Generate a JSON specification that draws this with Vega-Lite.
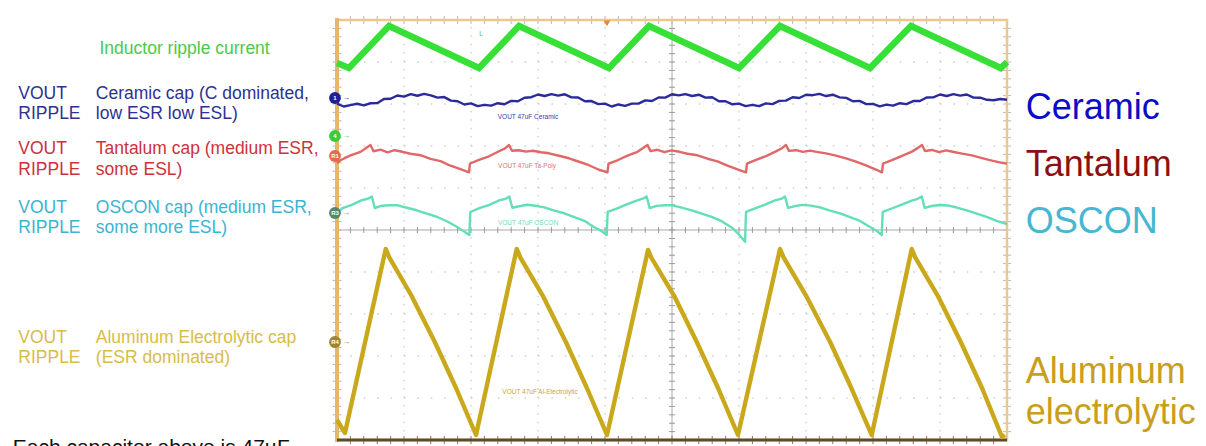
{
"$schema": "https://vega.github.io/schema/vega-lite/v6.json",
"width": 670, "height": 420,
"autosize": {"type": "none"},
"padding": {"left": 337, "top": 20, "right": 199, "bottom": 6},
"background": "white",
"config": {"view": {"stroke": null}, "font": "Liberation Sans", "axis": {"disable": true}},
"datasets": {
"gridv": [{"x":1},{"x":2},{"x":3},{"x":4},{"x":6},{"x":7},{"x":8},{"x":9}],
"gridh": [{"y":1},{"y":2},{"y":3},{"y":4},{"y":6},{"y":7},{"y":8},{"y":9}],
"minor": [{"p":0.2},{"p":0.4},{"p":0.6},{"p":0.8},{"p":1},{"p":1.2},{"p":1.4},{"p":1.6},{"p":1.8},{"p":2},{"p":2.2},{"p":2.4},{"p":2.6},{"p":2.8},{"p":3},{"p":3.2},{"p":3.4},{"p":3.6},{"p":3.8},{"p":4},{"p":4.2},{"p":4.4},{"p":4.6},{"p":4.8},{"p":5},{"p":5.2},{"p":5.4},{"p":5.6},{"p":5.8},{"p":6},{"p":6.2},{"p":6.4},{"p":6.6},{"p":6.8},{"p":7},{"p":7.2},{"p":7.4},{"p":7.6},{"p":7.8},{"p":8},{"p":8.2},{"p":8.4},{"p":8.6},{"p":8.8},{"p":9},{"p":9.2},{"p":9.4},{"p":9.6},{"p":9.8}],
"traces": [
{"s":"inductor","x":0,"y":8.976},{"s":"inductor","x":0.179,"y":8.857},{"s":"inductor","x":0.776,"y":9.857},{"s":"inductor","x":2.119,"y":8.857},{"s":"inductor","x":2.716,"y":9.857},{"s":"inductor","x":4.06,"y":8.857},{"s":"inductor","x":4.657,"y":9.857},{"s":"inductor","x":6.0,"y":8.857},{"s":"inductor","x":6.612,"y":9.857},{"s":"inductor","x":7.955,"y":8.857},{"s":"inductor","x":8.567,"y":9.857},{"s":"inductor","x":9.906,"y":8.857},{"s":"inductor","x":10,"y":9.0},
{"s":"ceramic","x":0,"y":8.009},{"s":"ceramic","x":0.1,"y":7.94},{"s":"ceramic","x":0.2,"y":7.974},{"s":"ceramic","x":0.3,"y":8.005},{"s":"ceramic","x":0.4,"y":7.969},{"s":"ceramic","x":0.5,"y":8.018},{"s":"ceramic","x":0.6,"y":8.02},{"s":"ceramic","x":0.7,"y":8.12},{"s":"ceramic","x":0.8,"y":8.125},{"s":"ceramic","x":0.9,"y":8.202},{"s":"ceramic","x":1.0,"y":8.176},{"s":"ceramic","x":1.1,"y":8.235},{"s":"ceramic","x":1.2,"y":8.196},{"s":"ceramic","x":1.3,"y":8.24},{"s":"ceramic","x":1.4,"y":8.206},{"s":"ceramic","x":1.5,"y":8.152},{"s":"ceramic","x":1.6,"y":8.165},{"s":"ceramic","x":1.7,"y":8.08},{"s":"ceramic","x":1.8,"y":8.065},{"s":"ceramic","x":1.9,"y":7.988},{"s":"ceramic","x":2.0,"y":8.014},{"s":"ceramic","x":2.1,"y":7.95},{"s":"ceramic","x":2.2,"y":7.979},{"s":"ceramic","x":2.3,"y":7.96},{"s":"ceramic","x":2.4,"y":8.019},{"s":"ceramic","x":2.5,"y":7.993},{"s":"ceramic","x":2.6,"y":8.075},{"s":"ceramic","x":2.7,"y":8.065},{"s":"ceramic","x":2.8,"y":8.15},{"s":"ceramic","x":2.9,"y":8.162},{"s":"ceramic","x":3.0,"y":8.226},{"s":"ceramic","x":3.1,"y":8.19},{"s":"ceramic","x":3.2,"y":8.236},{"s":"ceramic","x":3.3,"y":8.2},{"s":"ceramic","x":3.4,"y":8.231},{"s":"ceramic","x":3.5,"y":8.157},{"s":"ceramic","x":3.6,"y":8.155},{"s":"ceramic","x":3.7,"y":8.065},{"s":"ceramic","x":3.8,"y":8.07},{"s":"ceramic","x":3.9,"y":7.998},{"s":"ceramic","x":4.0,"y":8.009},{"s":"ceramic","x":4.1,"y":7.94},{"s":"ceramic","x":4.2,"y":7.989},{"s":"ceramic","x":4.3,"y":7.955},{"s":"ceramic","x":4.4,"y":8.009},{"s":"ceramic","x":4.5,"y":8.008},{"s":"ceramic","x":4.6,"y":8.085},{"s":"ceramic","x":4.7,"y":8.07},{"s":"ceramic","x":4.8,"y":8.155},{"s":"ceramic","x":4.9,"y":8.152},{"s":"ceramic","x":5.0,"y":8.231},{"s":"ceramic","x":5.1,"y":8.205},{"s":"ceramic","x":5.2,"y":8.236},{"s":"ceramic","x":5.3,"y":8.19},{"s":"ceramic","x":5.4,"y":8.221},{"s":"ceramic","x":5.5,"y":8.152},{"s":"ceramic","x":5.6,"y":8.16},{"s":"ceramic","x":5.7,"y":8.065},{"s":"ceramic","x":5.8,"y":8.065},{"s":"ceramic","x":5.9,"y":7.993},{"s":"ceramic","x":6.0,"y":8.009},{"s":"ceramic","x":6.1,"y":7.95},{"s":"ceramic","x":6.2,"y":7.979},{"s":"ceramic","x":6.3,"y":7.95},{"s":"ceramic","x":6.4,"y":8.014},{"s":"ceramic","x":6.5,"y":7.998},{"s":"ceramic","x":6.6,"y":8.075},{"s":"ceramic","x":6.7,"y":8.08},{"s":"ceramic","x":6.8,"y":8.16},{"s":"ceramic","x":6.9,"y":8.142},{"s":"ceramic","x":7.0,"y":8.221},{"s":"ceramic","x":7.1,"y":8.21},{"s":"ceramic","x":7.2,"y":8.241},{"s":"ceramic","x":7.3,"y":8.19},{"s":"ceramic","x":7.4,"y":8.221},{"s":"ceramic","x":7.5,"y":8.157},{"s":"ceramic","x":7.6,"y":8.145},{"s":"ceramic","x":7.7,"y":8.065},{"s":"ceramic","x":7.8,"y":8.075},{"s":"ceramic","x":7.9,"y":7.998},{"s":"ceramic","x":8.0,"y":8.004},{"s":"ceramic","x":8.1,"y":7.945},{"s":"ceramic","x":8.2,"y":7.984},{"s":"ceramic","x":8.3,"y":7.96},{"s":"ceramic","x":8.4,"y":8.019},{"s":"ceramic","x":8.5,"y":7.998},{"s":"ceramic","x":8.6,"y":8.07},{"s":"ceramic","x":8.7,"y":8.07},{"s":"ceramic","x":8.8,"y":8.155},{"s":"ceramic","x":8.9,"y":8.157},{"s":"ceramic","x":9.0,"y":8.226},{"s":"ceramic","x":9.1,"y":8.19},{"s":"ceramic","x":9.2,"y":8.236},{"s":"ceramic","x":9.3,"y":8.2},{"s":"ceramic","x":9.4,"y":8.226},{"s":"ceramic","x":9.5,"y":8.152},{"s":"ceramic","x":9.6,"y":8.15},{"s":"ceramic","x":9.7,"y":8.1},{"s":"ceramic","x":9.8,"y":8.09},{"s":"ceramic","x":9.9,"y":8.12},{"s":"ceramic","x":10.0,"y":8.1},
{"s":"tantalum","x":0,"y":6.595},{"s":"tantalum","x":0.052,"y":6.66},{"s":"tantalum","x":0.201,"y":6.775},{"s":"tantalum","x":0.351,"y":6.86},{"s":"tantalum","x":0.44,"y":6.96},{"s":"tantalum","x":0.5,"y":7.024},{"s":"tantalum","x":0.545,"y":6.875},{"s":"tantalum","x":0.649,"y":6.912},{"s":"tantalum","x":0.754,"y":6.85},{"s":"tantalum","x":0.858,"y":6.9},{"s":"tantalum","x":0.978,"y":6.862},{"s":"tantalum","x":1.097,"y":6.815},{"s":"tantalum","x":1.246,"y":6.78},{"s":"tantalum","x":1.396,"y":6.695},{"s":"tantalum","x":1.545,"y":6.64},{"s":"tantalum","x":1.694,"y":6.53},{"s":"tantalum","x":1.843,"y":6.448},{"s":"tantalum","x":1.97,"y":6.374},
{"s":"tantalum","x":1.985,"y":6.583},{"s":"tantalum","x":2.119,"y":6.672},{"s":"tantalum","x":2.269,"y":6.755},{"s":"tantalum","x":2.418,"y":6.875},{"s":"tantalum","x":2.507,"y":6.945},{"s":"tantalum","x":2.567,"y":7.024},{"s":"tantalum","x":2.612,"y":6.886},{"s":"tantalum","x":2.716,"y":6.898},{"s":"tantalum","x":2.821,"y":6.865},{"s":"tantalum","x":2.925,"y":6.888},{"s":"tantalum","x":3.045,"y":6.85},{"s":"tantalum","x":3.164,"y":6.826},{"s":"tantalum","x":3.313,"y":6.768},{"s":"tantalum","x":3.463,"y":6.708},{"s":"tantalum","x":3.612,"y":6.625},{"s":"tantalum","x":3.761,"y":6.542},{"s":"tantalum","x":3.91,"y":6.435},{"s":"tantalum","x":4.037,"y":6.374},
{"s":"tantalum","x":4.052,"y":6.583},{"s":"tantalum","x":4.186,"y":6.66},{"s":"tantalum","x":4.336,"y":6.77},{"s":"tantalum","x":4.485,"y":6.862},{"s":"tantalum","x":4.574,"y":6.958},{"s":"tantalum","x":4.634,"y":7.024},{"s":"tantalum","x":4.679,"y":6.878},{"s":"tantalum","x":4.783,"y":6.91},{"s":"tantalum","x":4.888,"y":6.852},{"s":"tantalum","x":4.992,"y":6.897},{"s":"tantalum","x":5.112,"y":6.862},{"s":"tantalum","x":5.231,"y":6.816},{"s":"tantalum","x":5.38,"y":6.779},{"s":"tantalum","x":5.53,"y":6.697},{"s":"tantalum","x":5.679,"y":6.636},{"s":"tantalum","x":5.828,"y":6.531},{"s":"tantalum","x":5.977,"y":6.445},{"s":"tantalum","x":6.104,"y":6.374},
{"s":"tantalum","x":6.119,"y":6.583},{"s":"tantalum","x":6.253,"y":6.67},{"s":"tantalum","x":6.403,"y":6.758},{"s":"tantalum","x":6.552,"y":6.872},{"s":"tantalum","x":6.641,"y":6.948},{"s":"tantalum","x":6.701,"y":7.024},{"s":"tantalum","x":6.746,"y":6.884},{"s":"tantalum","x":6.85,"y":6.9},{"s":"tantalum","x":6.955,"y":6.86},{"s":"tantalum","x":7.059,"y":6.89},{"s":"tantalum","x":7.179,"y":6.855},{"s":"tantalum","x":7.298,"y":6.824},{"s":"tantalum","x":7.447,"y":6.77},{"s":"tantalum","x":7.597,"y":6.705},{"s":"tantalum","x":7.746,"y":6.628},{"s":"tantalum","x":7.895,"y":6.538},{"s":"tantalum","x":8.044,"y":6.44},{"s":"tantalum","x":8.134,"y":6.374},
{"s":"tantalum","x":8.149,"y":6.583},{"s":"tantalum","x":8.283,"y":6.665},{"s":"tantalum","x":8.433,"y":6.765},{"s":"tantalum","x":8.582,"y":6.866},{"s":"tantalum","x":8.671,"y":6.955},{"s":"tantalum","x":8.731,"y":7.024},{"s":"tantalum","x":8.776,"y":6.88},{"s":"tantalum","x":8.88,"y":6.906},{"s":"tantalum","x":8.985,"y":6.855},{"s":"tantalum","x":9.089,"y":6.895},{"s":"tantalum","x":9.209,"y":6.858},{"s":"tantalum","x":9.328,"y":6.82},{"s":"tantalum","x":9.477,"y":6.776},{"s":"tantalum","x":9.627,"y":6.71},{"s":"tantalum","x":9.776,"y":6.65},{"s":"tantalum","x":9.925,"y":6.6},{"s":"tantalum","x":10.0,"y":6.58},
{"s":"oscon","x":0,"y":5.381},{"s":"oscon","x":0.072,"y":5.514},{"s":"oscon","x":0.221,"y":5.6},{"s":"oscon","x":0.37,"y":5.71},{"s":"oscon","x":0.46,"y":5.745},{"s":"oscon","x":0.52,"y":5.798},{"s":"oscon","x":0.564,"y":5.524},{"s":"oscon","x":0.669,"y":5.578},{"s":"oscon","x":0.788,"y":5.59},{"s":"oscon","x":0.907,"y":5.588},{"s":"oscon","x":1.042,"y":5.53},{"s":"oscon","x":1.191,"y":5.47},{"s":"oscon","x":1.34,"y":5.388},{"s":"oscon","x":1.489,"y":5.315},{"s":"oscon","x":1.639,"y":5.208},{"s":"oscon","x":1.788,"y":5.078},{"s":"oscon","x":1.892,"y":4.97},{"s":"oscon","x":1.975,"y":4.881},
{"s":"oscon","x":1.99,"y":5.429},{"s":"oscon","x":2.124,"y":5.52},{"s":"oscon","x":2.274,"y":5.6},{"s":"oscon","x":2.423,"y":5.708},{"s":"oscon","x":2.512,"y":5.74},{"s":"oscon","x":2.572,"y":5.798},{"s":"oscon","x":2.617,"y":5.53},{"s":"oscon","x":2.721,"y":5.565},{"s":"oscon","x":2.84,"y":5.6},{"s":"oscon","x":2.96,"y":5.578},{"s":"oscon","x":3.094,"y":5.54},{"s":"oscon","x":3.243,"y":5.46},{"s":"oscon","x":3.393,"y":5.398},{"s":"oscon","x":3.542,"y":5.305},{"s":"oscon","x":3.691,"y":5.22},{"s":"oscon","x":3.84,"y":5.065},{"s":"oscon","x":3.945,"y":4.98},{"s":"oscon","x":4.025,"y":4.881},
{"s":"oscon","x":4.04,"y":5.429},{"s":"oscon","x":4.174,"y":5.508},{"s":"oscon","x":4.324,"y":5.612},{"s":"oscon","x":4.473,"y":5.698},{"s":"oscon","x":4.562,"y":5.745},{"s":"oscon","x":4.622,"y":5.798},{"s":"oscon","x":4.667,"y":5.52},{"s":"oscon","x":4.771,"y":5.575},{"s":"oscon","x":4.891,"y":5.59},{"s":"oscon","x":5.01,"y":5.588},{"s":"oscon","x":5.144,"y":5.532},{"s":"oscon","x":5.294,"y":5.468},{"s":"oscon","x":5.443,"y":5.39},{"s":"oscon","x":5.592,"y":5.312},{"s":"oscon","x":5.741,"y":5.21},{"s":"oscon","x":5.891,"y":5.06},{"s":"oscon","x":5.995,"y":4.9},{"s":"oscon","x":6.09,"y":4.72},
{"s":"oscon","x":6.105,"y":5.429},{"s":"oscon","x":6.239,"y":5.515},{"s":"oscon","x":6.389,"y":5.605},{"s":"oscon","x":6.538,"y":5.705},{"s":"oscon","x":6.627,"y":5.74},{"s":"oscon","x":6.687,"y":5.798},{"s":"oscon","x":6.732,"y":5.528},{"s":"oscon","x":6.836,"y":5.57},{"s":"oscon","x":6.956,"y":5.598},{"s":"oscon","x":7.075,"y":5.58},{"s":"oscon","x":7.209,"y":5.538},{"s":"oscon","x":7.359,"y":5.462},{"s":"oscon","x":7.508,"y":5.395},{"s":"oscon","x":7.657,"y":5.308},{"s":"oscon","x":7.806,"y":5.215},{"s":"oscon","x":7.956,"y":5.07},{"s":"oscon","x":8.06,"y":4.975},{"s":"oscon","x":8.13,"y":4.881},
{"s":"oscon","x":8.145,"y":5.429},{"s":"oscon","x":8.279,"y":5.512},{"s":"oscon","x":8.429,"y":5.605},{"s":"oscon","x":8.578,"y":5.7},{"s":"oscon","x":8.667,"y":5.742},{"s":"oscon","x":8.727,"y":5.798},{"s":"oscon","x":8.772,"y":5.525},{"s":"oscon","x":8.876,"y":5.572},{"s":"oscon","x":8.996,"y":5.595},{"s":"oscon","x":9.115,"y":5.585},{"s":"oscon","x":9.249,"y":5.535},{"s":"oscon","x":9.399,"y":5.465},{"s":"oscon","x":9.548,"y":5.392},{"s":"oscon","x":9.697,"y":5.31},{"s":"oscon","x":9.846,"y":5.215},{"s":"oscon","x":10.0,"y":5.14},
{"s":"aluminum","x":0,"y":0.476},{"s":"aluminum","x":0.119,"y":0.167},{"s":"aluminum","x":0.727,"y":4.548},{"s":"aluminum","x":0.78,"y":4.35},{"s":"aluminum","x":1.11,"y":3.44},{"s":"aluminum","x":1.46,"y":2.333},{"s":"aluminum","x":1.78,"y":1.226},{"s":"aluminum","x":2.075,"y":0.119},
{"s":"aluminum","x":2.682,"y":4.548},{"s":"aluminum","x":2.735,"y":4.35},{"s":"aluminum","x":3.07,"y":3.44},{"s":"aluminum","x":3.416,"y":2.333},{"s":"aluminum","x":3.733,"y":1.226},{"s":"aluminum","x":4.03,"y":0.119},
{"s":"aluminum","x":4.642,"y":4.524},{"s":"aluminum","x":4.695,"y":4.33},{"s":"aluminum","x":5.03,"y":3.44},{"s":"aluminum","x":5.37,"y":2.333},{"s":"aluminum","x":5.69,"y":1.226},{"s":"aluminum","x":5.985,"y":0.119},
{"s":"aluminum","x":6.612,"y":4.548},{"s":"aluminum","x":6.665,"y":4.35},{"s":"aluminum","x":7.0,"y":3.44},{"s":"aluminum","x":7.36,"y":2.333},{"s":"aluminum","x":7.68,"y":1.226},{"s":"aluminum","x":7.981,"y":0.119},
{"s":"aluminum","x":8.578,"y":4.548},{"s":"aluminum","x":8.63,"y":4.35},{"s":"aluminum","x":8.965,"y":3.44},{"s":"aluminum","x":9.31,"y":2.333},{"s":"aluminum","x":9.63,"y":1.226},{"s":"aluminum","x":9.925,"y":0.071},{"s":"aluminum","x":9.97,"y":0.12}
],
"markers": [
{"x":-0.03,"y":8.143,"t":"1","g":"ceramic"},
{"x":-0.03,"y":7.238,"t":"4","g":"inductor"},
{"x":-0.03,"y":6.762,"t":"R1","g":"tantalum"},
{"x":-0.03,"y":5.405,"t":"R3","g":"oscon"},
{"x":-0.03,"y":2.333,"t":"R4","g":"aluminum"}
],
"tiny": [
{"x":2.851,"y":7.69,"t":"VOUT 47uF Ceramic","g":"ceramic"},
{"x":2.836,"y":6.524,"t":"VOUT 47uF Ta-Poly","g":"tantalum"},
{"x":2.851,"y":5.167,"t":"VOUT 47uF OSCON","g":"oscon"},
{"x":3.03,"y":1.143,"t":"VOUT 47uF Al-Electrolytic","g":"aluminum"},
{"x":2.149,"y":9.667,"t":"L","g":"inductor"}
],
"left": [
{"x":-3.545,"y":9.19,"t":"Inductor ripple current","g":"inductor"},
{"x":-4.757,"y":8.126,"t":"VOUT","g":"ceramic"},
{"x":-4.757,"y":7.636,"t":"RIPPLE","g":"ceramic"},
{"x":-3.6,"y":8.126,"t":"Ceramic cap (C dominated,","g":"ceramic"},
{"x":-3.6,"y":7.636,"t":"low ESR low ESL)","g":"ceramic"},
{"x":-4.757,"y":6.81,"t":"VOUT","g":"tantalum"},
{"x":-4.757,"y":6.317,"t":"RIPPLE","g":"tantalum"},
{"x":-3.6,"y":6.81,"t":"Tantalum cap (medium ESR,","g":"tantalum"},
{"x":-3.6,"y":6.317,"t":"some ESL)","g":"tantalum"},
{"x":-4.757,"y":5.412,"t":"VOUT","g":"oscon"},
{"x":-4.757,"y":4.921,"t":"RIPPLE","g":"oscon"},
{"x":-3.6,"y":5.412,"t":"OSCON cap (medium ESR,","g":"oscon"},
{"x":-3.6,"y":4.921,"t":"some more ESL)","g":"oscon"},
{"x":-4.757,"y":2.317,"t":"VOUT","g":"aluminum"},
{"x":-4.757,"y":1.826,"t":"RIPPLE","g":"aluminum"},
{"x":-3.6,"y":2.317,"t":"Aluminum Electrolytic cap","g":"aluminum"},
{"x":-3.6,"y":1.826,"t":"(ESR dominated)","g":"aluminum"}
],
"right": [
{"x":10.28,"y":7.643,"t":"Ceramic","g":"ceramic"},
{"x":10.28,"y":6.293,"t":"Tantalum","g":"tantalum"},
{"x":10.28,"y":4.929,"t":"OSCON","g":"oscon"},
{"x":10.28,"y":1.357,"t":"Aluminum","g":"aluminum"},
{"x":10.28,"y":0.381,"t":"electrolytic","g":"aluminum"}
]
},
"layer": [
{"data": {"name": "gridv"}, "mark": {"type": "rule", "color": "#cfcfcf", "strokeWidth": 1.4, "strokeDash": [1.5, 6.9]},
 "encoding": {"x": {"field": "x", "type": "quantitative", "scale": {"domain": [0, 10], "nice": false, "zero": false}}, "y": {"datum": 0, "scale": {"domain": [0, 10], "nice": false, "zero": false}}, "y2": {"datum": 10}}},
{"data": {"name": "gridh"}, "mark": {"type": "rule", "color": "#cfcfcf", "strokeWidth": 1.4, "strokeDash": [1.5, 11.9]},
 "encoding": {"y": {"field": "y", "type": "quantitative", "scale": {"domain": [0, 10], "nice": false, "zero": false}}, "x": {"datum": 0, "scale": {"domain": [0, 10], "nice": false, "zero": false}}, "x2": {"datum": 10}}},
{"data": {"values": [{}]}, "mark": {"type": "rule", "color": "#a8a8a8", "strokeWidth": 1},
 "encoding": {"x": {"datum": 5, "scale": {"domain": [0, 10], "nice": false, "zero": false}}, "y": {"datum": 0, "scale": {"domain": [0, 10], "nice": false, "zero": false}}, "y2": {"datum": 10}}},
{"data": {"values": [{}]}, "mark": {"type": "rule", "color": "#a8a8a8", "strokeWidth": 1},
 "encoding": {"y": {"datum": 5, "scale": {"domain": [0, 10], "nice": false, "zero": false}}, "x": {"datum": 0, "scale": {"domain": [0, 10], "nice": false, "zero": false}}, "x2": {"datum": 10}}},
{"data": {"name": "minor"}, "mark": {"type": "tick", "orient": "vertical", "size": 6, "thickness": 1, "color": "#999999", "opacity": 1},
 "encoding": {"x": {"field": "p", "type": "quantitative", "scale": {"domain": [0, 10], "nice": false, "zero": false}}, "y": {"datum": 5, "scale": {"domain": [0, 10], "nice": false, "zero": false}}}},
{"data": {"name": "minor"}, "mark": {"type": "tick", "orient": "horizontal", "size": 6, "thickness": 1, "color": "#999999", "opacity": 1},
 "encoding": {"y": {"field": "p", "type": "quantitative", "scale": {"domain": [0, 10], "nice": false, "zero": false}}, "x": {"datum": 5, "scale": {"domain": [0, 10], "nice": false, "zero": false}}}},
{"data": {"name": "minor"}, "mark": {"type": "tick", "orient": "vertical", "size": 8, "thickness": 1, "color": "#b8b8b8", "opacity": 1},
 "encoding": {"x": {"field": "p", "type": "quantitative", "scale": {"domain": [0, 10], "nice": false, "zero": false}}, "y": {"datum": 10, "scale": {"domain": [0, 10], "nice": false, "zero": false}}}},
{"data": {"name": "minor"}, "mark": {"type": "tick", "orient": "vertical", "size": 8, "thickness": 1, "color": "#8a7a5a", "opacity": 1},
 "encoding": {"x": {"field": "p", "type": "quantitative", "scale": {"domain": [0, 10], "nice": false, "zero": false}}, "y": {"datum": 0, "scale": {"domain": [0, 10], "nice": false, "zero": false}}}},
{"data": {"name": "minor"}, "mark": {"type": "tick", "orient": "horizontal", "size": 9, "thickness": 1, "color": "#b8b8b8", "opacity": 1},
 "encoding": {"y": {"field": "p", "type": "quantitative", "scale": {"domain": [0, 10], "nice": false, "zero": false}}, "x": {"datum": 0, "scale": {"domain": [0, 10], "nice": false, "zero": false}}}},
{"data": {"name": "minor"}, "mark": {"type": "tick", "orient": "horizontal", "size": 8, "thickness": 1, "color": "#b8b8b8", "opacity": 1},
 "encoding": {"y": {"field": "p", "type": "quantitative", "scale": {"domain": [0, 10], "nice": false, "zero": false}}, "x": {"datum": 10, "scale": {"domain": [0, 10], "nice": false, "zero": false}}}},
{"data": {"values": [{}]}, "mark": {"type": "rect", "fillOpacity": 0, "stroke": "#ecc88e", "strokeWidth": 2.5},
 "encoding": {"x": {"datum": 0, "scale": {"domain": [0, 10], "nice": false, "zero": false}}, "x2": {"datum": 10}, "y": {"datum": 0, "scale": {"domain": [0, 10], "nice": false, "zero": false}}, "y2": {"datum": 10}}},
{"data": {"values": [{}]}, "mark": {"type": "rule", "color": "#e8b56c", "strokeWidth": 4},
 "encoding": {"x": {"datum": 0, "scale": {"domain": [0, 10], "nice": false, "zero": false}}, "y": {"datum": -0.05, "scale": {"domain": [0, 10], "nice": false, "zero": false}}, "y2": {"datum": 10.05}}},
{"data": {"values": [{}]}, "mark": {"type": "rule", "color": "#5e4b2b", "strokeWidth": 3},
 "encoding": {"y": {"datum": 0, "scale": {"domain": [0, 10], "nice": false, "zero": false}}, "x": {"datum": 0, "scale": {"domain": [0, 10], "nice": false, "zero": false}}, "x2": {"datum": 10}}},
{"data": {"name": "traces"}, "transform": [{"filter": "datum.s !== 'inductor' && datum.s !== 'aluminum'"}],
 "mark": {"type": "line", "strokeWidth": 2.4, "strokeJoin": "round"},
 "encoding": {"x": {"field": "x", "type": "quantitative", "scale": {"domain": [0, 10], "nice": false, "zero": false}}, "y": {"field": "y", "type": "quantitative", "scale": {"domain": [0, 10], "nice": false, "zero": false}},
  "color": {"field": "s", "type": "nominal", "legend": null, "scale": {"domain": ["ceramic", "tantalum", "oscon"], "range": ["#2a2a9c", "#e06868", "#62dfb8"]}}}},
{"data": {"name": "traces"}, "transform": [{"filter": "datum.s === 'aluminum'"}],
 "mark": {"type": "line", "strokeWidth": 4.4, "strokeJoin": "round", "color": "#c9a81c"},
 "encoding": {"x": {"field": "x", "type": "quantitative", "scale": {"domain": [0, 10], "nice": false, "zero": false}}, "y": {"field": "y", "type": "quantitative", "scale": {"domain": [0, 10], "nice": false, "zero": false}}}},
{"data": {"name": "traces"}, "transform": [{"filter": "datum.s === 'inductor'"}],
 "mark": {"type": "line", "strokeWidth": 6.5, "strokeJoin": "miter", "color": "#36e036"},
 "encoding": {"x": {"field": "x", "type": "quantitative", "scale": {"domain": [0, 10], "nice": false, "zero": false}}, "y": {"field": "y", "type": "quantitative", "scale": {"domain": [0, 10], "nice": false, "zero": false}}}},
{"data": {"name": "tiny"}, "mark": {"type": "text", "fontSize": 6.5, "align": "center", "baseline": "middle"},
 "encoding": {"x": {"field": "x", "type": "quantitative", "scale": {"domain": [0, 10], "nice": false, "zero": false}}, "y": {"field": "y", "type": "quantitative", "scale": {"domain": [0, 10], "nice": false, "zero": false}}, "text": {"field": "t"},
  "color": {"field": "g", "type": "nominal", "legend": null, "scale": {"domain": ["inductor", "ceramic", "tantalum", "oscon", "aluminum"], "range": ["#44cc44", "#3a3aa8", "#e07070", "#70dcc0", "#c9aa30"]}}}},
{"data": {"values": [{}]}, "mark": {"type": "point", "shape": "triangle-down", "filled": true, "size": 45, "color": "#f0862a", "opacity": 1},
 "encoding": {"x": {"datum": 4.03, "scale": {"domain": [0, 10], "nice": false, "zero": false}}, "y": {"datum": 9.92, "scale": {"domain": [0, 10], "nice": false, "zero": false}}}},
{"data": {"name": "markers"}, "mark": {"type": "circle", "size": 140, "opacity": 1},
 "encoding": {"x": {"field": "x", "type": "quantitative", "scale": {"domain": [0, 10], "nice": false, "zero": false}}, "y": {"field": "y", "type": "quantitative", "scale": {"domain": [0, 10], "nice": false, "zero": false}},
  "color": {"field": "g", "type": "nominal", "legend": null, "scale": {"domain": ["inductor", "ceramic", "tantalum", "oscon", "aluminum"], "range": ["#3ccb3c", "#1f1f9a", "#e86a4a", "#4e8a6c", "#a4832e"]}}}},
{"data": {"name": "markers"}, "mark": {"type": "text", "fontSize": 6, "fontWeight": "bold", "align": "center", "baseline": "middle", "color": "#ffffff"},
 "encoding": {"x": {"field": "x", "type": "quantitative", "scale": {"domain": [0, 10], "nice": false, "zero": false}}, "y": {"field": "y", "type": "quantitative", "scale": {"domain": [0, 10], "nice": false, "zero": false}}, "text": {"field": "t"}}},
{"data": {"name": "markers"}, "mark": {"type": "text", "fontSize": 8, "align": "left", "baseline": "middle", "dx": 7, "text": "→"},
 "encoding": {"x": {"field": "x", "type": "quantitative", "scale": {"domain": [0, 10], "nice": false, "zero": false}}, "y": {"field": "y", "type": "quantitative", "scale": {"domain": [0, 10], "nice": false, "zero": false}},
  "color": {"field": "g", "type": "nominal", "legend": null, "scale": {"domain": ["inductor", "ceramic", "tantalum", "oscon", "aluminum"], "range": ["#3ccb3c", "#1f1f9a", "#e86a4a", "#4e8a6c", "#a4832e"]}}}},
{"data": {"name": "left"}, "mark": {"type": "text", "fontSize": 17.5, "align": "left", "baseline": "alphabetic"},
 "encoding": {"x": {"field": "x", "type": "quantitative", "scale": {"domain": [0, 10], "nice": false, "zero": false}}, "y": {"field": "y", "type": "quantitative", "scale": {"domain": [0, 10], "nice": false, "zero": false}}, "text": {"field": "t"},
  "color": {"field": "g", "type": "nominal", "legend": null, "scale": {"domain": ["inductor", "ceramic", "tantalum", "oscon", "aluminum"], "range": ["#4cc84c", "#2e3192", "#d0303a", "#3ab4d2", "#d8bc48"]}}}},
{"data": {"values": [{"x": -4.84, "y": -0.333, "t": "Each capacitor above is 47µF"}]}, "mark": {"type": "text", "fontSize": 21, "align": "left", "baseline": "alphabetic", "color": "#111111"},
 "encoding": {"x": {"field": "x", "type": "quantitative", "scale": {"domain": [0, 10], "nice": false, "zero": false}}, "y": {"field": "y", "type": "quantitative", "scale": {"domain": [0, 10], "nice": false, "zero": false}}, "text": {"field": "t"}}},
{"data": {"name": "right"}, "mark": {"type": "text", "fontSize": 36, "align": "left", "baseline": "alphabetic"},
 "encoding": {"x": {"field": "x", "type": "quantitative", "scale": {"domain": [0, 10], "nice": false, "zero": false}}, "y": {"field": "y", "type": "quantitative", "scale": {"domain": [0, 10], "nice": false, "zero": false}}, "text": {"field": "t"},
  "color": {"field": "g", "type": "nominal", "legend": null, "scale": {"domain": ["ceramic", "tantalum", "oscon", "aluminum"], "range": ["#0b0bc8", "#8e0f0f", "#45b7d3", "#c99e1c"]}}}}
],
"resolve": {"scale": {"color": "independent"}}
}
